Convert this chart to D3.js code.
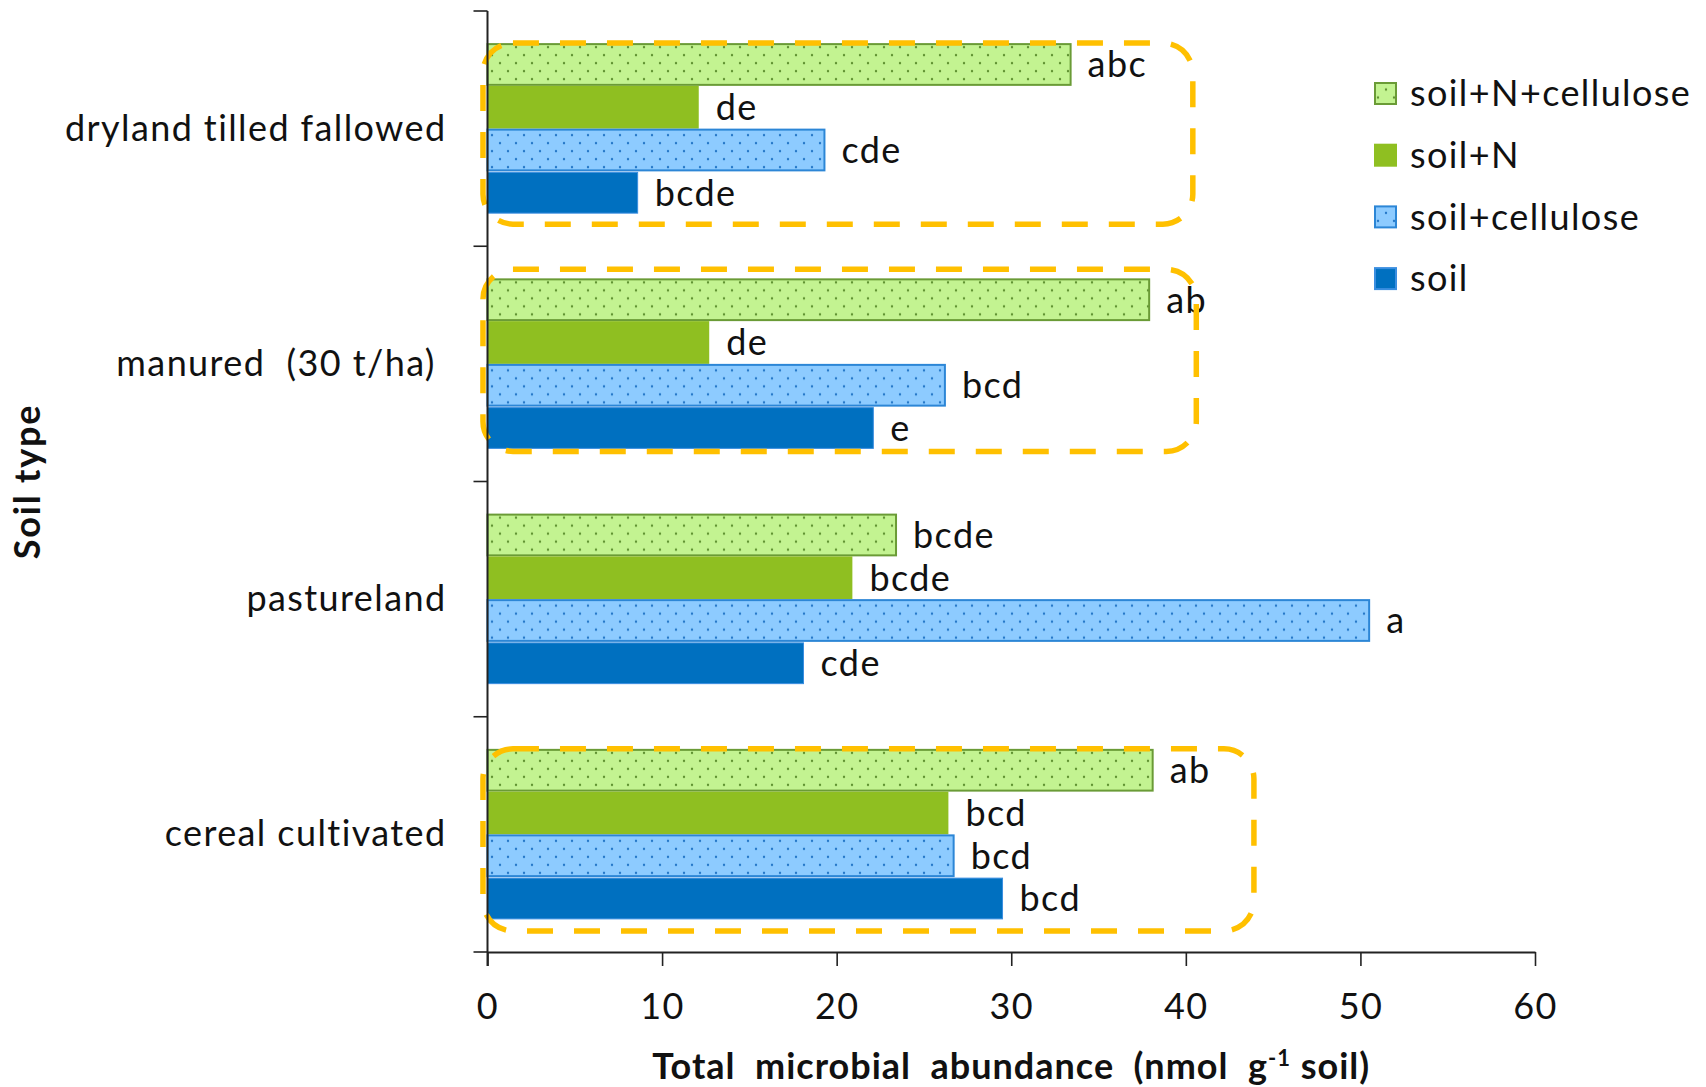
<!DOCTYPE html>
<html>
<head>
<meta charset="utf-8">
<script src="https://cdn.jsdelivr.net/npm/d3@7/dist/d3.min.js"></script>
<style>
  html, body { margin: 0; padding: 0; background: #fff; }
  svg text { font-family: Lato, "Open Sans", sans-serif; fill: #111; letter-spacing: 1.4px; }
</style>
</head>
<body>
<svg id="chart" width="1706" height="1087"></svg>
<script>
// Soil types, top to bottom
const soilTypes = ["dryland tilled fallowed", "manured  (30 t/ha) ", "pastureland", "cereal cultivated"];
// Treatments, top to bottom within each soil type
const treatments = ["soil+N+cellulose", "soil+N", "soil+cellulose", "soil"];

// Total microbial abundance (nmol g-1 soil), one array per treatment, in soilTypes order
const soilNCellulose = [33.4, 37.9, 23.4, 38.1];
const soilN          = [12.1, 12.7, 20.9, 26.4];
const soilCellulose  = [19.3, 26.2, 50.5, 26.7];
const soilOnly       = [8.6, 22.1, 18.1, 29.5];

// Significance letters, same layout as the values
const lettersNCellulose = ["abc", "ab", "bcde", "ab"];
const lettersN          = ["de", "de", "bcde", "bcd"];
const lettersCellulose  = ["cde", "bcd", "a", "bcd"];
const lettersSoil       = ["bcde", "e", "cde", "bcd"];

const xTicks = [0, 10, 20, 30, 40, 50, 60];

// Soil types outlined with a dashed frame, and how far right (in axis units) each frame reaches
const framedTypes = ["dryland tilled fallowed", "manured  (30 t/ha) ", "cereal cultivated"];
const frameReach  = [40.4, 40.6, 43.9];

const seriesValues  = [soilNCellulose, soilN, soilCellulose, soilOnly];
const seriesLetters = [lettersNCellulose, lettersN, lettersCellulose, lettersSoil];

const style = {
  "soil+N+cellulose": { fill: "#C3F391", stroke: "#6A9B36", dots: "#5F9130", pattern: true },
  "soil+N":           { fill: "#8FBF21", stroke: "none",    dots: null,      pattern: false },
  "soil+cellulose":   { fill: "#8DCBFF", stroke: "#2C86D6", dots: "#2477C8", pattern: true },
  "soil":             { fill: "#0070C0", stroke: "#3A8EE0", dots: null,      pattern: false }
};

const svg = d3.select("#chart");
const plotL = 487.5, plotR = 1535, plotT = 11, plotB = 952;
const fontSize = 36;

const x = d3.scaleLinear().domain([0, 60]).range([plotL, plotR]);
const y = d3.scaleBand().domain(soilTypes).range([plotT, plotB])
  .paddingInner(0.273).paddingOuter(0.1365);
const yInner = d3.scaleBand().domain(treatments).range([0, y.bandwidth()]);

// Dotted fills
const defs = svg.append("defs");
treatments.forEach((t, i) => {
  const s = style[t];
  if (!s.pattern) return;
  const p = defs.append("pattern").attr("id", "pat" + i)
    .attr("patternUnits", "userSpaceOnUse").attr("width", 16).attr("height", 16);
  p.append("rect").attr("width", 16).attr("height", 16).attr("fill", s.fill);
  p.append("circle").attr("cx", 4).attr("cy", 4).attr("r", 1.2).attr("fill", s.dots);
  p.append("circle").attr("cx", 12).attr("cy", 12).attr("r", 1.2).attr("fill", s.dots);
});
const fillOf = (t) => {
  const i = treatments.indexOf(t);
  return style[t].pattern ? `url(#pat${i})` : style[t].fill;
};

// Bars
const rows = [];
soilTypes.forEach((c, ci) => {
  treatments.forEach((t, ti) => {
    rows.push({ type: c, treatment: t, value: seriesValues[ti][ci], letter: seriesLetters[ti][ci] });
  });
});

const groups = svg.append("g").selectAll("g").data(soilTypes).join("g")
  .attr("transform", d => `translate(0,${y(d)})`);

groups.selectAll("rect")
  .data(c => rows.filter(r => r.type === c))
  .join("rect")
  .attr("x", x(0))
  .attr("y", d => yInner(d.treatment) + (style[d.treatment].stroke === "none" ? 0 : 1))
  .attr("width", d => x(d.value) - x(0))
  .attr("height", d => yInner.bandwidth() - (style[d.treatment].stroke === "none" ? 0 : 2))
  .attr("fill", d => fillOf(d.treatment))
  .attr("stroke", d => style[d.treatment].stroke)
  .attr("stroke-width", d => d.treatment === "soil" ? 1 : 2);

// Significance letters
groups.selectAll("text.letter")
  .data(c => rows.filter(r => r.type === c))
  .join("text")
  .attr("class", "letter")
  .attr("x", d => x(d.value) + 17)
  .attr("y", d => yInner(d.treatment) + yInner.bandwidth() / 2)
  .attr("dy", "0.36em")
  .attr("font-size", fontSize)
  .text(d => d.letter);

// Dashed frames around selected soil types
const framePad = { "dryland tilled fallowed": [0, 10], "manured  (30 t/ha) ": [-9, 2], "cereal cultivated": [0, 11] };
svg.append("g").selectAll("rect").data(framedTypes).join("rect")
  .attr("x", x(-0.26))
  .attr("y", d => y(d) + framePad[d][0])
  .attr("width", (d, i) => x(frameReach[i]) - x(-0.26))
  .attr("height", d => y.bandwidth() - framePad[d][0] + framePad[d][1])
  .attr("rx", 30).attr("ry", 30)
  .attr("fill", "none")
  .attr("stroke", "#FFC000")
  .attr("stroke-width", 5.5)
  .attr("stroke-dasharray", "26 21");

// X axis
const xAxis = svg.append("g").attr("transform", `translate(0,${plotB})`)
  .call(d3.axisBottom(x).tickValues(xTicks).tickSize(14).tickPadding(27).tickSizeOuter(0));
xAxis.select(".domain").attr("stroke", "#222").attr("stroke-width", 2);
xAxis.selectAll(".tick line").attr("stroke", "#222").attr("stroke-width", 1.6);
xAxis.selectAll("text").attr("font-size", fontSize).attr("font-family", "Lato, sans-serif").attr("fill", "#111");

// Y axis: line, boundary ticks, centred category labels
svg.append("line").attr("x1", plotL).attr("x2", plotL).attr("y1", plotT).attr("y2", plotB + 14)
  .attr("stroke", "#222").attr("stroke-width", 2);
const gap = (y.step() - y.bandwidth()) / 2;
const bounds = soilTypes.map(c => y(c) - gap).concat([y(soilTypes[soilTypes.length - 1]) + y.bandwidth() + gap]);
svg.append("g").selectAll("line").data(bounds).join("line")
  .attr("x1", plotL - 14).attr("x2", plotL).attr("y1", d => d).attr("y2", d => d)
  .attr("stroke", "#222").attr("stroke-width", 1.6);
svg.append("g").selectAll("text").data(soilTypes).join("text")
  .attr("x", plotL - 41)
  .attr("y", d => y(d) + y.bandwidth() / 2)
  .attr("dy", "0.33em")
  .attr("text-anchor", "end")
  .attr("font-size", fontSize)
  .style("white-space", "pre")
  .text(d => d);

// Axis titles
const xt = svg.append("text")
  .attr("x", (plotL + plotR) / 2).attr("y", 1079)
  .attr("text-anchor", "middle")
  .attr("font-size", fontSize).attr("font-weight", "bold")
  .style("letter-spacing", "1px")
  .style("white-space", "pre");
xt.append("tspan").text("Total  microbial  abundance  (nmol  g");
xt.append("tspan").attr("dy", -13).attr("font-size", 22).text("-1");
xt.append("tspan").attr("dy", 13).text(" soil)");

svg.append("text")
  .attr("transform", `translate(40,${(plotT + plotB) / 2}) rotate(-90)`)
  .attr("text-anchor", "middle")
  .attr("font-size", fontSize).attr("font-weight", "bold")
  .style("letter-spacing", "1.8px")
  .text("Soil type");

// Legend
const legend = svg.append("g").selectAll("g").data(treatments).join("g")
  .attr("transform", (d, i) => `translate(1374,${93.5 + i * 61.7})`);
legend.append("rect")
  .attr("x", 1).attr("y", -10.5).attr("width", 21).attr("height", 21)
  .attr("fill", d => fillOf(d))
  .attr("stroke", d => style[d].stroke === "none" ? style[d].fill : style[d].stroke)
  .attr("stroke-width", 2);
legend.append("text")
  .attr("x", 36).attr("dy", "0.35em")
  .attr("font-size", fontSize)
  .text(d => d);
</script>
</body>
</html>
